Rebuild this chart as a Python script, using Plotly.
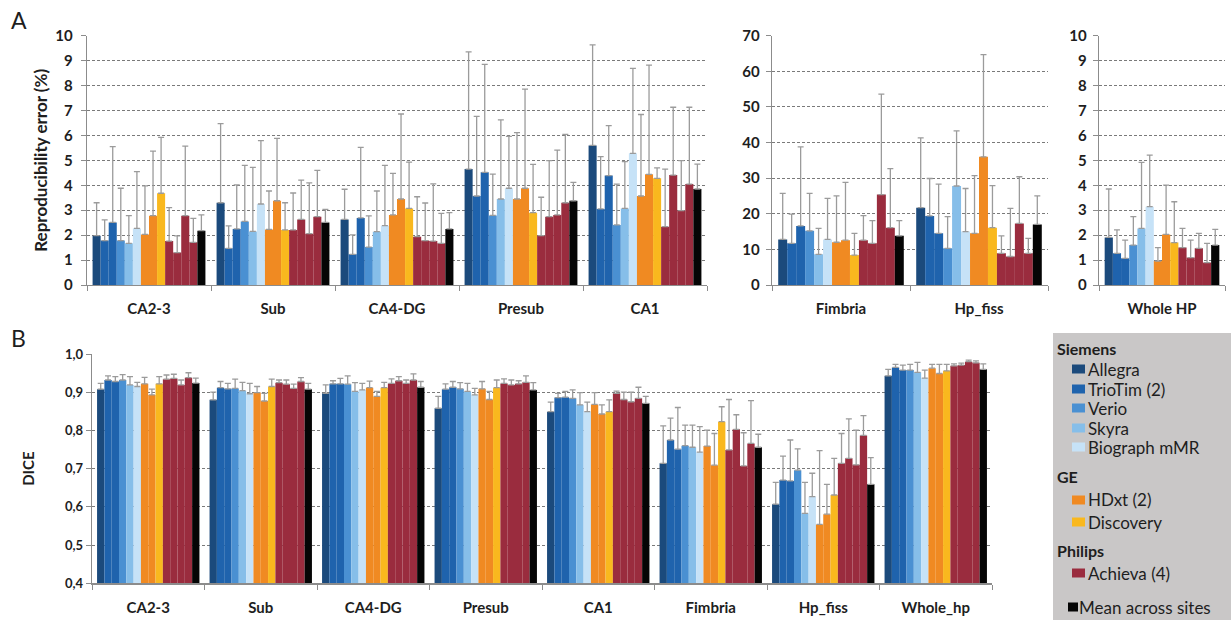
import plotly.graph_objects as go

# ---------------- data ----------------
site_names = ["Allegra", "TrioTim (2)", "TrioTim (2)", "Verio", "Skyra", "Biograph mMR",
              "HDxt (2)", "HDxt (2)", "Discovery",
              "Achieva (4)", "Achieva (4)", "Achieva (4)", "Achieva (4)", "Mean across sites"]

cats_a1 = ["CA2-3", "Sub", "CA4-DG", "Presub", "CA1"]
cats_a2 = ["Fimbria", "Hp_fiss"]
cats_a3 = ["Whole HP"]
cats_b = ["CA2-3", "Sub", "CA4-DG", "Presub", "CA1", "Fimbria", "Hp_fiss", "Whole_hp"]

# Panel A: reproducibility error (%), mean and SD per site
rep_ca23 = [1.98, 1.78, 2.51, 1.78, 1.67, 2.27, 2.03, 2.78, 3.68, 1.76, 1.30, 2.78, 1.71, 2.18]
rep_ca23_sd = [1.32, 0.83, 3.04, 2.10, 1.11, 2.28, 1.95, 2.59, 2.24, 1.34, 0.67, 2.79, 0.96, 0.63]
rep_sub = [3.30, 1.47, 2.25, 2.55, 2.15, 3.25, 2.23, 3.38, 2.21, 2.21, 2.63, 2.06, 2.74, 2.51]
rep_sub_sd = [3.17, 0.90, 1.77, 2.25, 2.57, 2.54, 1.54, 2.50, 1.09, 1.48, 1.58, 2.04, 1.86, 0.52]
rep_ca4dg = [2.63, 1.23, 2.69, 1.52, 2.14, 2.38, 2.81, 3.45, 3.07, 1.94, 1.78, 1.76, 1.67, 2.25]
rep_ca4dg_sd = [1.21, 0.78, 2.83, 1.25, 1.63, 2.42, 1.67, 3.41, 1.86, 1.60, 1.51, 2.30, 1.20, 0.65]
rep_presub = [4.65, 3.57, 4.52, 2.79, 3.45, 3.88, 3.45, 3.88, 2.90, 1.98, 2.74, 2.81, 3.30, 3.38]
rep_presub_sd = [4.70, 3.19, 4.33, 1.66, 3.17, 2.08, 2.66, 3.98, 1.94, 1.54, 2.25, 2.60, 2.74, 0.74]
rep_ca1 = [5.60, 3.05, 4.39, 2.41, 3.07, 5.28, 3.57, 4.44, 4.28, 2.34, 4.41, 2.98, 4.05, 3.85]
rep_ca1_sd = [4.03, 2.10, 2.00, 1.64, 1.88, 3.41, 3.27, 4.38, 0.42, 2.31, 2.72, 2.01, 3.08, 1.00]
rep_fimbria = [12.8, 11.7, 16.6, 15.2, 8.6, 12.8, 12.0, 12.6, 8.4, 12.6, 11.7, 25.4, 16.1, 13.8]
rep_fimbria_sd = [12.9, 8.2, 22.2, 10.5, 7.3, 11.5, 13.0, 16.2, 6.1, 6.9, 6.4, 28.2, 16.6, 4.3]
rep_hpfiss = [21.7, 19.4, 14.5, 10.3, 27.8, 15.0, 14.5, 36.0, 16.1, 8.9, 8.0, 17.3, 8.9, 17.0]
rep_hpfiss_sd = [19.6, 10.5, 13.8, 8.9, 15.5, 12.1, 16.2, 28.7, 11.8, 4.9, 13.5, 13.1, 4.2, 8.0]
rep_whole = [1.91, 1.27, 1.07, 1.60, 2.27, 3.14, 0.96, 2.03, 1.70, 1.50, 1.10, 1.47, 0.90, 1.60]
rep_whole_sd = [1.94, 0.94, 0.73, 1.14, 2.65, 2.07, 0.54, 1.98, 1.64, 0.77, 0.70, 0.60, 0.77, 0.63]

# Panel B: DICE, mean and SD per site
dice_ca23 = [0.908, 0.932, 0.928, 0.932, 0.919, 0.915, 0.922, 0.893, 0.922, 0.934, 0.936, 0.919, 0.938, 0.924]
dice_ca23_sd = [0.015, 0.011, 0.013, 0.014, 0.022, 0.011, 0.017, 0.015, 0.019, 0.011, 0.011, 0.013, 0.013, 0.013]
dice_sub = [0.880, 0.912, 0.909, 0.910, 0.904, 0.896, 0.899, 0.877, 0.915, 0.925, 0.921, 0.910, 0.928, 0.908]
dice_sub_sd = [0.020, 0.016, 0.014, 0.024, 0.022, 0.027, 0.016, 0.020, 0.019, 0.007, 0.011, 0.011, 0.010, 0.015]
dice_ca4dg = [0.897, 0.922, 0.922, 0.921, 0.902, 0.906, 0.912, 0.889, 0.912, 0.923, 0.930, 0.923, 0.932, 0.913]
dice_ca4dg_sd = [0.022, 0.008, 0.014, 0.022, 0.023, 0.017, 0.017, 0.013, 0.014, 0.012, 0.011, 0.009, 0.016, 0.015]
dice_presub = [0.858, 0.908, 0.913, 0.909, 0.902, 0.893, 0.909, 0.881, 0.912, 0.923, 0.919, 0.922, 0.926, 0.906]
dice_presub_sd = [0.031, 0.014, 0.015, 0.016, 0.021, 0.017, 0.019, 0.021, 0.020, 0.012, 0.013, 0.008, 0.017, 0.019]
dice_ca1 = [0.849, 0.886, 0.887, 0.884, 0.867, 0.849, 0.868, 0.843, 0.849, 0.897, 0.881, 0.875, 0.884, 0.871]
dice_ca1_sd = [0.025, 0.011, 0.015, 0.022, 0.032, 0.025, 0.031, 0.024, 0.031, 0.006, 0.019, 0.025, 0.029, 0.018]
dice_fimbria = [0.714, 0.775, 0.751, 0.760, 0.756, 0.743, 0.759, 0.709, 0.823, 0.749, 0.803, 0.707, 0.766, 0.756]
dice_fimbria_sd = [0.098, 0.057, 0.109, 0.054, 0.058, 0.067, 0.042, 0.083, 0.039, 0.132, 0.038, 0.087, 0.112, 0.034]
dice_hpfiss = [0.607, 0.670, 0.668, 0.696, 0.583, 0.627, 0.554, 0.581, 0.631, 0.714, 0.727, 0.710, 0.787, 0.659]
dice_hpfiss_sd = [0.057, 0.063, 0.107, 0.056, 0.081, 0.061, 0.193, 0.078, 0.096, 0.078, 0.103, 0.091, 0.052, 0.070]
dice_whole = [0.943, 0.965, 0.958, 0.958, 0.952, 0.937, 0.963, 0.949, 0.956, 0.969, 0.971, 0.980, 0.977, 0.960]
dice_whole_sd = [0.017, 0.008, 0.013, 0.015, 0.026, 0.021, 0.010, 0.024, 0.017, 0.005, 0.005, 0.004, 0.005, 0.014]

dice_ticks = [0.4, 0.5, 0.6, 0.7, 0.8, 0.9, 1.0]
dice_ticktext = ["0,4", "0,5", "0,6", "0,7", "0,8", "0,9", "1,0"]

# legend content: (kind, text, site index for colour)
legend_rows = [("title", "Siemens", None), ("item", "Allegra", 0), ("item", "TrioTim (2)", 1),
               ("item", "Verio", 3), ("item", "Skyra", 4), ("item", "Biograph mMR", 5),
               ("title", "GE", None), ("item", "HDxt (2)", 6), ("item", "Discovery", 8),
               ("title", "Philips", None), ("item", "Achieva (4)", 9),
               ("mean", "Mean across sites", 13)]

# ---------------- style ----------------
colors = ["#1b4a7c", "#1f63ad", "#1f63ad", "#4a90d2", "#86bee9", "#c6e2f7",
          "#f08a22", "#f08a22", "#f9b81e",
          "#9a2c3e", "#9a2c3e", "#9a2c3e", "#9a2c3e", "#050505"]
FONT = "Lato"
TXT = "#1e1e1e"
GRID = "#7a7a7a"
AXC = "#8c8c8c"
W, H = 1231, 620
legend_row_y = [348, 369, 389, 408, 428, 447, 477, 500, 522, 550, 573, 607]

panels = [
    ("x", "y", cats_a1,
     [rep_ca23, rep_sub, rep_ca4dg, rep_presub, rep_ca1],
     [rep_ca23_sd, rep_sub_sd, rep_ca4dg_sd, rep_presub_sd, rep_ca1_sd]),
    ("x2", "y2", cats_a2, [rep_fimbria, rep_hpfiss], [rep_fimbria_sd, rep_hpfiss_sd]),
    ("x3", "y3", cats_a3, [rep_whole], [rep_whole_sd]),
    ("x4", "y4", cats_b,
     [dice_ca23, dice_sub, dice_ca4dg, dice_presub, dice_ca1, dice_fimbria, dice_hpfiss, dice_whole],
     [dice_ca23_sd, dice_sub_sd, dice_ca4dg_sd, dice_presub_sd, dice_ca1_sd, dice_fimbria_sd,
      dice_hpfiss_sd, dice_whole_sd]),
]

fig = go.Figure()
for xa, ya, cats, vals, sds in panels:
    for i in range(len(site_names)):
        fig.add_trace(go.Bar(
            x=cats, y=[v[i] for v in vals],
            xaxis=xa, yaxis=ya,
            name=site_names[i],
            marker=dict(color=colors[i], line=dict(width=0)),
            error_y=dict(type="data", symmetric=False,
                         array=[s[i] for s in sds], arrayminus=[0] * len(cats),
                         color="#9b9b9b", thickness=1.3, width=3),
            showlegend=False,
        ))


def px_x(a, b):
    return [a / W, b / W]


def px_y(bottom, top):
    return [(H - bottom) / H, (H - top) / H]


def fy(py):
    return (H - py) / H


tickfont_cat = dict(family=FONT, size=15, color=TXT, weight="bold")
xcommon = dict(type="category", showline=True, linecolor=AXC, linewidth=1.3,
               ticks="outside", tickson="boundaries", ticklen=5, tickcolor=AXC,
               showgrid=False, tickfont=tickfont_cat, ticklabelstandoff=10,
               fixedrange=True, automargin=False)
ycommon = dict(showline=True, linecolor=AXC, linewidth=1.3, ticks="outside", ticklen=5,
               tickcolor=AXC, showgrid=True, gridcolor=GRID, gridwidth=1, griddash="3px,2px",
               zeroline=False, tickfont=dict(family=FONT, size=15, color=TXT, weight="bold"),
               fixedrange=True, automargin=False)

# manual legend (grey box, swatches, texts)
shapes = [dict(type="rect", xref="paper", yref="paper",
               x0=1053 / W, x1=1.0, y0=0, y1=fy(333),
               fillcolor="#c9c7c7", line=dict(width=0), layer="below")]
annotations = [
    dict(text="A", x=9 / W, y=fy(4), xref="paper", yref="paper",
         xanchor="left", yanchor="top", showarrow=False,
         font=dict(family=FONT, size=23, color=TXT)),
    dict(text="B", x=9 / W, y=fy(322), xref="paper", yref="paper",
         xanchor="left", yanchor="top", showarrow=False,
         font=dict(family=FONT, size=23, color=TXT)),
]
for (kind, text, ci), ry in zip(legend_rows, legend_row_y):
    if kind == "title":
        annotations.append(dict(text=text, x=1055 / W, y=fy(ry), xref="paper", yref="paper",
                                xanchor="left", yanchor="middle", showarrow=False,
                                font=dict(family=FONT, size=16, color=TXT, weight="bold")))
    else:
        if kind == "item":
            sx0, sx1, tx = 1072, 1085, 1086
        else:
            sx0, sx1, tx = 1068, 1078, 1077
        shapes.append(dict(type="rect", xref="paper", yref="paper",
                           x0=sx0 / W, x1=sx1 / W, y0=fy(ry + 4.5), y1=fy(ry - 4.5),
                           fillcolor=colors[ci], line=dict(width=0)))
        annotations.append(dict(text=text, x=tx / W, y=fy(ry), xref="paper", yref="paper",
                                xanchor="left", yanchor="middle", showarrow=False,
                                font=dict(family=FONT, size=17, color=TXT)))

ydomA = px_y(285, 35.7)
fig.update_layout(
    width=W, height=H,
    margin=dict(l=0, r=0, t=0, b=0),
    paper_bgcolor="white", plot_bgcolor="white",
    barmode="group", bargap=0.09, bargroupgap=0,
    font=dict(family=FONT, color=TXT),
    showlegend=False,
    xaxis=dict(domain=px_x(87, 707), anchor="y", **xcommon),
    yaxis=dict(domain=ydomA, anchor="x", range=[0, 10], dtick=1, ticklabelstandoff=5,
               title=dict(text="Reproducibility error (%)", standoff=3,
                          font=dict(family=FONT, size=17, color=TXT, weight="bold")),
               **ycommon),
    xaxis2=dict(domain=px_x(772, 1048), anchor="y2", **xcommon),
    yaxis2=dict(domain=ydomA, anchor="x2", range=[0, 70], dtick=10, ticklabelstandoff=3, **ycommon),
    xaxis3=dict(domain=px_x(1099, 1225), anchor="y3", **xcommon),
    yaxis3=dict(domain=ydomA, anchor="x3", range=[0, 10], dtick=1, ticklabelstandoff=3, **ycommon),
    xaxis4=dict(domain=px_x(92, 992), anchor="y4", **xcommon),
    yaxis4=dict(domain=px_y(583.3, 354), anchor="x4", range=[0.4, 1.0],
                tickvals=dice_ticks, ticktext=dice_ticktext,
                title=dict(text="DICE", standoff=26,
                           font=dict(family=FONT, size=15, color=TXT, weight="bold")),
                **{**ycommon, "tickfont": dict(family=FONT, size=13, color=TXT, weight="bold")}),
    shapes=shapes,
    annotations=annotations,
)

fig.write_html("out.html", config={"displayModeBar": False, "staticPlot": True},
               post_script="document.body.style.margin='0';document.body.style.overflow='hidden';")
